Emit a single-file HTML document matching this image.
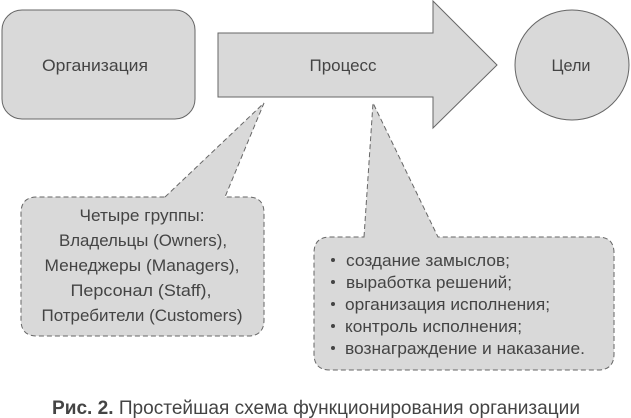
<!DOCTYPE html>
<html><head><meta charset="utf-8"><style>
html,body{margin:0;padding:0;background:#fff;}
svg{display:block;}
text{font-family:"Liberation Sans","DejaVu Sans",sans-serif;fill:#444;font-size:16.5px;}
</style></head><body>
<svg width="631" height="418" viewBox="0 0 631 418" xmlns="http://www.w3.org/2000/svg">
<rect x="2" y="10" width="193" height="109" rx="20" fill="#d9d9d9" stroke="#666" stroke-width="1"/>
<polygon points="218,33 433,33 433,1 497,65 433,128 433,97 218,97" fill="#d9d9d9" stroke="#666" stroke-width="1"/>
<ellipse cx="572" cy="65" rx="57" ry="55" fill="#d9d9d9" stroke="#666" stroke-width="1"/>
<text x="95" y="71" text-anchor="middle" textLength="106" lengthAdjust="spacingAndGlyphs">Организация</text>
<text x="343" y="71" text-anchor="middle" textLength="67" lengthAdjust="spacingAndGlyphs">Процесс</text>
<text x="571" y="71" text-anchor="middle" textLength="39" lengthAdjust="spacingAndGlyphs">Цели</text>

<path d="M165,197 L264,103 L225,197 L248,197 Q264,197 264,213 L264,320 Q264,336 248,336 L37,336 Q21,336 21,320 L21,213 Q21,197 37,197 Z" fill="#d9d9d9" stroke="#666" stroke-width="1" stroke-dasharray="5,3"/>
<path d="M364,237 L373,103 L438,237 L598,237 Q614,237 614,253 L614,354 Q614,370 598,370 L330,370 Q314,370 314,354 L314,253 Q314,237 330,237 Z" fill="#d9d9d9" stroke="#666" stroke-width="1" stroke-dasharray="5,3"/>

<text x="142" y="221" text-anchor="middle" textLength="125" lengthAdjust="spacingAndGlyphs">Четыре группы:</text>
<text x="143" y="246" text-anchor="middle" textLength="168" lengthAdjust="spacingAndGlyphs">Владельцы (Owners),</text>
<text x="142" y="271" text-anchor="middle" textLength="195" lengthAdjust="spacingAndGlyphs">Менеджеры (Managers),</text>
<text x="141" y="296" text-anchor="middle" textLength="141" lengthAdjust="spacingAndGlyphs">Персонал (Staff),</text>
<text x="142" y="321" text-anchor="middle" textLength="201" lengthAdjust="spacingAndGlyphs">Потребители (Customers)</text>

<g>
<circle cx="333" cy="260" r="2" fill="#444"/><text x="346" y="266" textLength="164" lengthAdjust="spacingAndGlyphs">создание замыслов;</text>
<circle cx="333" cy="282" r="2" fill="#444"/><text x="346" y="288" textLength="166" lengthAdjust="spacingAndGlyphs">выработка решений;</text>
<circle cx="333" cy="304" r="2" fill="#444"/><text x="345" y="310" textLength="205" lengthAdjust="spacingAndGlyphs">организация исполнения;</text>
<circle cx="333" cy="326" r="2" fill="#444"/><text x="345" y="332" textLength="177" lengthAdjust="spacingAndGlyphs">контроль исполнения;</text>
<circle cx="333" cy="348" r="2" fill="#444"/><text x="345" y="354" textLength="240" lengthAdjust="spacingAndGlyphs">вознаграждение и наказание.</text>
</g>

<text x="52" y="414" style="font-size:19px" textLength="528" lengthAdjust="spacingAndGlyphs"><tspan font-weight="bold">Рис. 2.</tspan> Простейшая схема функционирования организации</text>
</svg>
</body></html>
